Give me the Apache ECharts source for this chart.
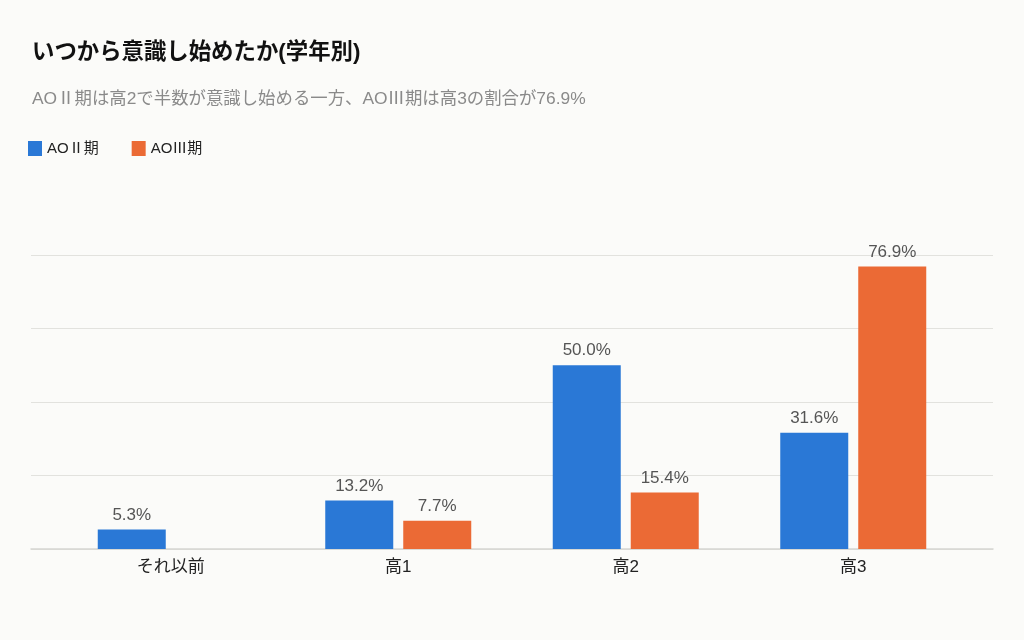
<!DOCTYPE html>
<html lang="ja">
<head>
  <meta charset="UTF-8">
  <title>いつから意識し始めたか</title>
  <script src="https://cdn.jsdelivr.net/npm/echarts@6/dist/echarts.min.js"></script>
  <style>
    html, body { margin: 0; padding: 0; background: #fbfbf9; }
    #main { width: 1024px; height: 640px; }
  </style>
</head>
<body>
<div id="main"></div>
<script>
  var myChart = echarts.init(document.getElementById('main'));

  // カテゴリと値
  const grades = ['それ以前', '高1', '高2', '高3'];
  const seriesNames = ['AOⅡ期', 'AOⅢ期'];
  const ao2 = [5.3, 13.2, 50.0, 31.6];
  const ao3 = [null, 7.7, 15.4, 76.9];
  const yTicks = [0, 20, 40, 60, 80];

  const font = '"Liberation Sans", "Noto Sans CJK JP", sans-serif';
  const labelFmt = function (p) { return p.value == null ? '' : p.value.toFixed(1) + '%'; };

  myChart.setOption({
    backgroundColor: '#fbfbf9',
    textStyle: { fontFamily: font },
    title: [{
      text: 'いつから意識し始めたか(学年別)',
      left: 27, top: 37,
      textStyle: { fontSize: 22.4, fontWeight: 'bold', color: '#111', fontFamily: font }
    }, {
      text: 'AOⅡ期は高2で半数が意識し始める一方、AOⅢ期は高3の割合が76.9%',
      left: 27, top: 86,
      textStyle: { fontSize: 17.4, fontWeight: 'normal', color: '#8a8a8a', fontFamily: font }
    }],
    legend: {
      data: seriesNames,
      left: 23, top: 136,
      icon: 'rect', itemWidth: 14, itemHeight: 15, itemGap: 33,
      textStyle: { fontSize: 15, color: '#222', fontFamily: font }
    },
    grid: [
      // 罫線用（幅広）
      { left: 31, right: 31, top: 255, bottom: 91 },
      // 棒グラフ用
      { left: 57, right: 57, top: 255, bottom: 91 }
    ],
    xAxis: [{
      type: 'category', gridIndex: 0, data: [''],
      axisLine: { lineStyle: { color: '#d6d6d2', width: 1.5 } },
      axisTick: { show: false }, axisLabel: { show: false }
    }, {
      type: 'category', gridIndex: 1, data: grades,
      axisLine: { show: false }, axisTick: { show: false },
      axisLabel: { fontSize: 17, color: '#222', margin: 10, fontFamily: font }
    }],
    yAxis: [{
      type: 'value', gridIndex: 0, min: yTicks[0], max: yTicks[yTicks.length - 1], interval: 20,
      axisLabel: { show: false }, axisLine: { show: false }, axisTick: { show: false },
      splitLine: { lineStyle: { color: '#e2e2de', width: 1 } }
    }, {
      type: 'value', gridIndex: 1, min: yTicks[0], max: yTicks[yTicks.length - 1], interval: 20,
      axisLabel: { show: false }, axisLine: { show: false }, axisTick: { show: false },
      splitLine: { show: false }
    }],
    series: [{
      name: seriesNames[0], type: 'bar', xAxisIndex: 1, yAxisIndex: 1,
      data: ao2, barWidth: 68, barGap: '14.7%',
      itemStyle: { color: '#2a78d6' },
      label: { show: true, position: 'top', distance: 6, fontSize: 17, color: '#555', formatter: labelFmt }
    }, {
      name: seriesNames[1], type: 'bar', xAxisIndex: 1, yAxisIndex: 1,
      data: ao3, barWidth: 68, barGap: '14.7%',
      itemStyle: { color: '#eb6a35' },
      label: { show: true, position: 'top', distance: 6, fontSize: 17, color: '#555', formatter: labelFmt }
    }]
  });
</script>
</body>
</html>
